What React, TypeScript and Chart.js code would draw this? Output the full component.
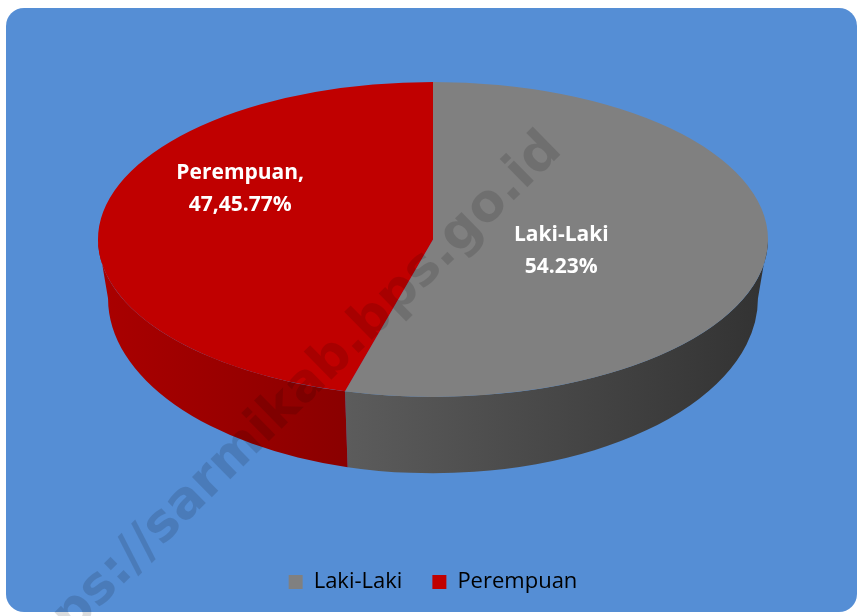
import React, { useEffect, useRef } from "react";
import { Chart, registerables } from "chart.js";

Chart.register(...registerables);

// ---- data ----
const categories = ["Laki-Laki", "Perempuan"];
const values = [54.23, 45.77];
const labelLines = [
  ["Laki-Laki", "54.23%"],
  ["Perempuan,", "47,45.77%"],
];
const watermarkText = "https://sarmikab.bps.go.id";

// ---- styles ----
const topColors = ["#808080", "#C00000"];
const sideColors = [
  ["#5C5C5C", "#323232"],
  ["#AA0000", "#8A0000"],
];
const labelRadius = [0.39, 0.66];
const labelShiftDeg = [3.3, 21.7];
const TILT = 0.47; // ry / rx
const DEPTH = 0.228; // depth / rx
const BOTTOM_RX = 0.97; // bottom rim width relative to top (perspective)
const BOTTOM_RY = 1.11; // bottom rim height relative to top (perspective)

function geom(chart: any) {
  const meta = chart.getDatasetMeta(0);
  if (!meta || !meta.data || !meta.data.length) return null;
  const p = meta.data[0].getProps(["x", "y", "outerRadius"], true);
  const area = chart.chartArea;
  const rx = (area.right - area.left) / 2;
  const ry = rx * TILT;
  const cx = (area.left + area.right) / 2;
  const cy = area.top + ry;
  const depth = rx * DEPTH;
  const rxB = rx * BOTTOM_RX;
  const ryB = ry * BOTTOM_RY;
  const cyB = cy + ry + depth - ryB;
  return { x: p.x, y: p.y, R: p.outerRadius, rx, ry, cx, cy, rxB, ryB, cyB };
}

function visibleRanges(s: number, e: number) {
  const out: [number, number][] = [];
  for (let k = -1; k <= 1; k++) {
    const base = 2 * Math.PI * k;
    const lo = Math.max(s, base);
    const hi = Math.min(e, base + Math.PI);
    if (hi > lo) out.push([lo - base, hi - base]);
  }
  return out;
}

const pie3d = {
  id: "pie3d",
  beforeDatasetsDraw(chart: any) {
    const g = geom(chart);
    const ctx = chart.ctx;
    ctx.save();
    if (!g) return;
    const meta = chart.getDatasetMeta(0);
    meta.data.forEach((arc: any, i: number) => {
      const { startAngle, endAngle } = arc.getProps(["startAngle", "endAngle"], true);
      visibleRanges(startAngle, endAngle).forEach(([a1, a2]) => {
        const xs = [
          g.cx + g.rx * Math.cos(a1),
          g.cx + g.rx * Math.cos(a2),
          g.cx + g.rxB * Math.cos(a1),
          g.cx + g.rxB * Math.cos(a2),
        ];
        const grad = ctx.createLinearGradient(Math.min(...xs), 0, Math.max(...xs), 0);
        grad.addColorStop(0, sideColors[i][0]);
        grad.addColorStop(1, sideColors[i][1]);
        ctx.beginPath();
        ctx.ellipse(g.cx, g.cy, g.rx, g.ry, 0, a1, a2);
        ctx.ellipse(g.cx, g.cyB, g.rxB, g.ryB, 0, a2, a1, true);
        ctx.closePath();
        ctx.fillStyle = grad;
        ctx.fill();
      });
    });
    ctx.translate(g.cx, g.cy);
    ctx.scale(g.rx / g.R, g.ry / g.R);
    ctx.translate(-g.x, -g.y);
  },
  afterDatasetsDraw(chart: any) {
    const ctx = chart.ctx;
    ctx.restore();
    const g = geom(chart);
    if (!g) return;
    const meta = chart.getDatasetMeta(0);
    ctx.save();
    ctx.font = 'bold 21px "Open Sans"';
    ctx.fillStyle = "#FFFFFF";
    ctx.textAlign = "center";
    ctx.textBaseline = "middle";
    meta.data.forEach((arc: any, i: number) => {
      const { startAngle, endAngle } = arc.getProps(["startAngle", "endAngle"], true);
      const mid = (startAngle + endAngle) / 2 + (labelShiftDeg[i] * Math.PI) / 180;
      const px = g.cx + g.rx * labelRadius[i] * Math.cos(mid);
      const py = g.cy + g.ry * labelRadius[i] * Math.sin(mid);
      const lines = labelLines[i];
      lines.forEach((t, j) => {
        ctx.fillText(t, px, py + (j - (lines.length - 1) / 2) * 32);
      });
    });
    ctx.restore();
  },
  afterDraw(chart: any) {
    const ctx = chart.ctx;
    ctx.save();
    ctx.translate(554, 142);
    ctx.rotate((-44.5 * Math.PI) / 180);
    ctx.font = 'bold 52px "DejaVu Sans"';
    ctx.textAlign = "right";
    ctx.textBaseline = "middle";
    ctx.fillStyle = "rgba(0,0,0,0.13)";
    ctx.fillText(watermarkText, 0, 0);
    ctx.restore();
  },
};

export default function App() {
  const ref = useRef<HTMLCanvasElement | null>(null);
  useEffect(() => {
    if (!ref.current) return;
    const chart = new Chart(ref.current, {
      type: "pie",
      data: {
        labels: categories,
        datasets: [
          {
            data: values,
            backgroundColor: topColors,
            borderWidth: 0,
            clip: false as any,
          },
        ],
      },
      options: {
        animation: false,
        responsive: false,
        events: [],
        layout: { padding: { left: 98, right: 89, top: 82, bottom: 13 } },
        plugins: {
          legend: {
            display: true,
            position: "bottom",
            labels: {
              color: "#000000",
              font: { family: '"Open Sans"', size: 22 },
              boxWidth: 14,
              boxHeight: 14,
              padding: 30,
            },
          },
          tooltip: { enabled: false },
        },
      },
      plugins: [pie3d],
    });
    return () => chart.destroy();
  }, []);

  return (
    <div style={{ position: "absolute", left: 0, top: 0, width: 857, height: 616, overflow: "hidden" }}>
      <div
        style={{
          position: "absolute",
          left: 6,
          top: 8,
          width: 851,
          height: 604,
          background: "#558ED5",
          borderRadius: 18,
        }}
      />
      <canvas
        ref={ref}
        width={857}
        height={616}
        style={{ position: "absolute", left: 0, top: 0, width: 857, height: 616 }}
      />
    </div>
  );
}
